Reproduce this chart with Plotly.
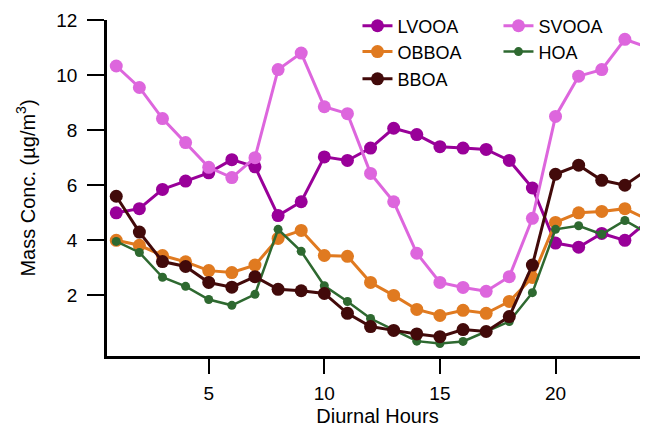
import plotly.graph_objects as go

hours = list(range(1, 25))
lvooa = [5.0, 5.15, 5.85, 6.15, 6.45, 6.93, 6.67, 4.9, 5.4, 7.03, 6.9, 7.35, 8.07, 7.84, 7.4, 7.35, 7.3, 6.9, 5.9, 3.9, 3.75, 4.25, 4.0, 4.7]
svooa = [10.33, 9.55, 8.42, 7.55, 6.65, 6.28, 7.0, 10.2, 10.8, 8.85, 8.6, 6.43, 5.4, 3.53, 2.47, 2.29, 2.15, 2.68, 4.8, 8.5, 9.96, 10.2, 11.3, 11.0]
obboa = [4.0, 3.82, 3.45, 3.22, 2.9, 2.83, 3.1, 4.07, 4.36, 3.45, 3.42, 2.47, 2.0, 1.49, 1.27, 1.46, 1.35, 1.78, 2.65, 4.65, 5.0, 5.05, 5.15, 4.75]
hoa = [3.96, 3.56, 2.66, 2.33, 1.85, 1.64, 2.04, 4.4, 3.6, 2.35, 1.78, 1.16, 0.75, 0.34, 0.25, 0.33, 0.69, 1.05, 2.1, 4.4, 4.53, 4.22, 4.72, 4.25]
bboa = [5.6, 4.3, 3.23, 3.05, 2.47, 2.3, 2.68, 2.22, 2.17, 2.07, 1.35, 0.87, 0.73, 0.6, 0.5, 0.76, 0.69, 1.23, 3.1, 6.4, 6.73, 6.18, 6.0, 6.58]

x_ticks = [5, 10, 15, 20]
y_ticks = [2, 4, 6, 8, 10, 12]

series = [
    ("LVOOA", lvooa, "#990099", 13, 3, "legend"),
    ("SVOOA", svooa, "#DD66DD", 13, 3, "legend"),
    ("OBBOA", obboa, "#E07A20", 13, 3, "legend2"),
    ("HOA", hoa, "#2E6930", 9, 2.5, "legend2"),
    ("BBOA", bboa, "#420A0A", 13, 3, "legend3"),
]

fig = go.Figure()
for name, vals, color, msize, lw, lg in series:
    fig.add_trace(go.Scatter(
        x=hours, y=vals, name=name, mode="lines+markers",
        line=dict(color=color, width=lw),
        marker=dict(color=color, size=msize),
        legend=lg,
    ))

font = dict(family="Liberation Sans, Arial, sans-serif", size=18, color="black")
leg_common = dict(orientation="h", xref="paper", yref="paper", xanchor="left", yanchor="middle",
                  bgcolor="rgba(0,0,0,0)", font=font, entrywidth=96, entrywidthmode="pixels",
                  itemwidth=30, tracegroupgap=0)
fig.update_layout(
    width=640, height=419,
    margin=dict(l=99, r=0, t=12, b=71, autoexpand=False),
    plot_bgcolor="white", paper_bgcolor="white",
    font=font,
    showlegend=True,
    legend=dict(x=0.463, y=0.982, **leg_common),
    legend2=dict(x=0.463, y=0.905, **leg_common),
    legend3=dict(x=0.463, y=0.824, **leg_common),
    xaxis=dict(range=[0.6, 24.0], tickvals=x_ticks, ticks="outside", ticklen=15, tickwidth=2,
               tickcolor="black", showline=True, linecolor="black", linewidth=2.5,
               showgrid=False, zeroline=False, tickfont=dict(size=19), ticklabelstandoff=3,
               title=dict(text="Diurnal Hours", standoff=12, font=dict(size=20))),
    yaxis=dict(range=[-0.2, 12.0], tickvals=y_ticks, ticks="outside", ticklen=17, tickwidth=2,
               tickcolor="black", showline=True, linecolor="black", linewidth=2.5,
               showgrid=False, zeroline=False, tickfont=dict(size=19), ticklabelstandoff=6,
               title=dict(text="Mass Conc. (µg/m<sup>3</sup>)", standoff=16, font=dict(size=20))),
)

fig.write_html("out.html")
